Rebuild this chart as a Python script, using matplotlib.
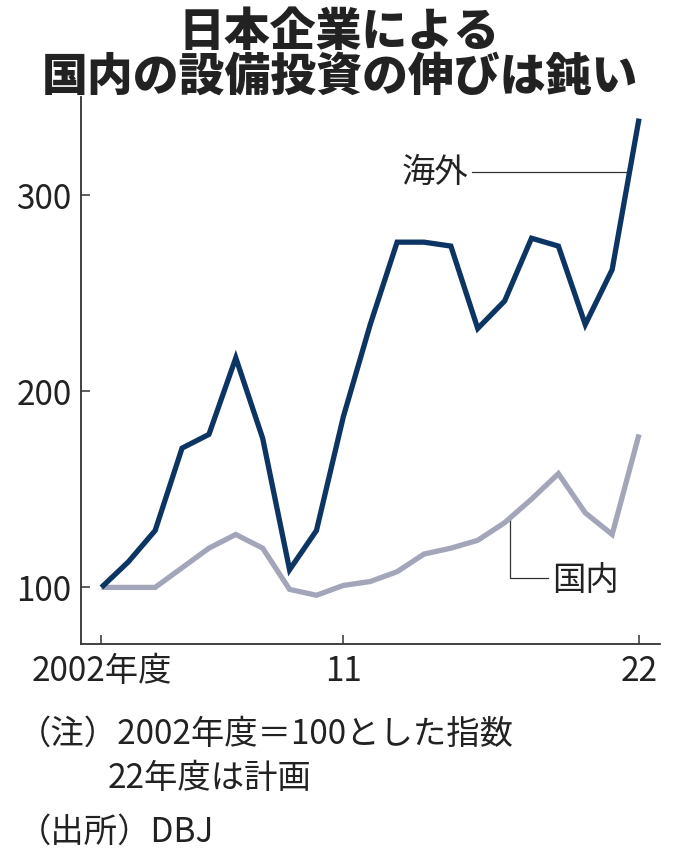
import matplotlib
matplotlib.use("Agg")
import matplotlib.pyplot as plt

plt.rcParams['font.family'] = ['Noto Sans CJK JP', 'DejaVu Sans']

years = list(range(2002, 2023))
overseas = [100, 113, 129, 171, 178, 217, 176, 109, 129, 187, 234, 276, 276, 274, 232, 246, 278, 274, 234, 262, 339]
domestic = [100, 100, 100, 110, 120, 127, 120, 99, 96, 101, 103, 108, 117, 120, 124, 133, 145, 158, 138, 127, 178]
xticks = [2002, 2011, 2022]
xtick_labels = ['2002年度', '11', '22']
yticks = [100, 200, 300]
yticklabels = ['100', '200', '300']
title_lines = ['日本企業による', '国内の設備投資の伸びは鈍い']
label_overseas = '海外'
label_domestic = '国内'
notes = ['（注）2002年度＝100とした指数', '22年度は計画', '（出所）DBJ']

W, H = 680, 863
fig = plt.figure(figsize=(W / 100, H / 100), dpi=100)
fig.patch.set_facecolor('white')

left, right, top, bottom = 80.7, 660, 97, 644.3
ax = fig.add_axes([left / W, (H - bottom) / H, (right - left) / W, (bottom - top) / H])

navy = '#0c3563'
grayl = '#a3a5b9'
ink = '#222222'

ax.plot(years, domestic, color=grayl, lw=3.8, solid_joinstyle='miter', solid_capstyle='butt', zorder=3)
ax.plot(years, overseas, color=navy, lw=3.8, solid_joinstyle='miter', solid_capstyle='butt', zorder=4)

ax.set_xlim(2001.23, 2022.78)
ax.set_ylim(71, 350)

for s in ['top', 'right']:
    ax.spines[s].set_visible(False)
for s in ['left', 'bottom']:
    ax.spines[s].set_linewidth(1.3)
    ax.spines[s].set_color('#333333')

ax.set_xticks(xticks)
ax.set_xticklabels(xtick_labels)
ax.set_yticks(yticks)
ax.set_yticklabels(yticklabels)
ax.tick_params(axis='both', direction='in', length=6.5, width=1.1, color='#333333',
               labelsize=24, labelcolor=ink)
ax.tick_params(axis='y', pad=6.5)
ax.tick_params(axis='x', pad=7)

# annotations
ax.plot([2015.79, 2021.56], [311.6, 311.6], color='#333333', lw=0.9, zorder=2)
ax.text(2015.64, 311.6, label_overseas, ha='right', va='center', fontsize=24, color=ink)
ax.plot([2017.2, 2017.2, 2018.6], [135.0, 104.6, 104.6], color='#333333', lw=0.9, zorder=2)
ax.text(2018.75, 103.5, label_domestic, ha='left', va='center', fontsize=24, color=ink)

# title
fig.text(339 / W, 1 - 32 / H, title_lines[0], ha='center', va='center', fontsize=33,
         fontweight='heavy', color=ink)
fig.text(340 / W, 1 - 77 / H, title_lines[1], ha='center', va='center', fontsize=33,
         fontweight='heavy', color=ink)

# notes
fig.text(18 / W, 1 - 734 / H, notes[0], ha='left', va='center', fontsize=24, color=ink)
fig.text(108 / W, 1 - 778 / H, notes[1], ha='left', va='center', fontsize=24, color=ink)
fig.text(18 / W, 1 - 832 / H, notes[2], ha='left', va='center', fontsize=24, color=ink)

fig.savefig('out.png', dpi=100)
